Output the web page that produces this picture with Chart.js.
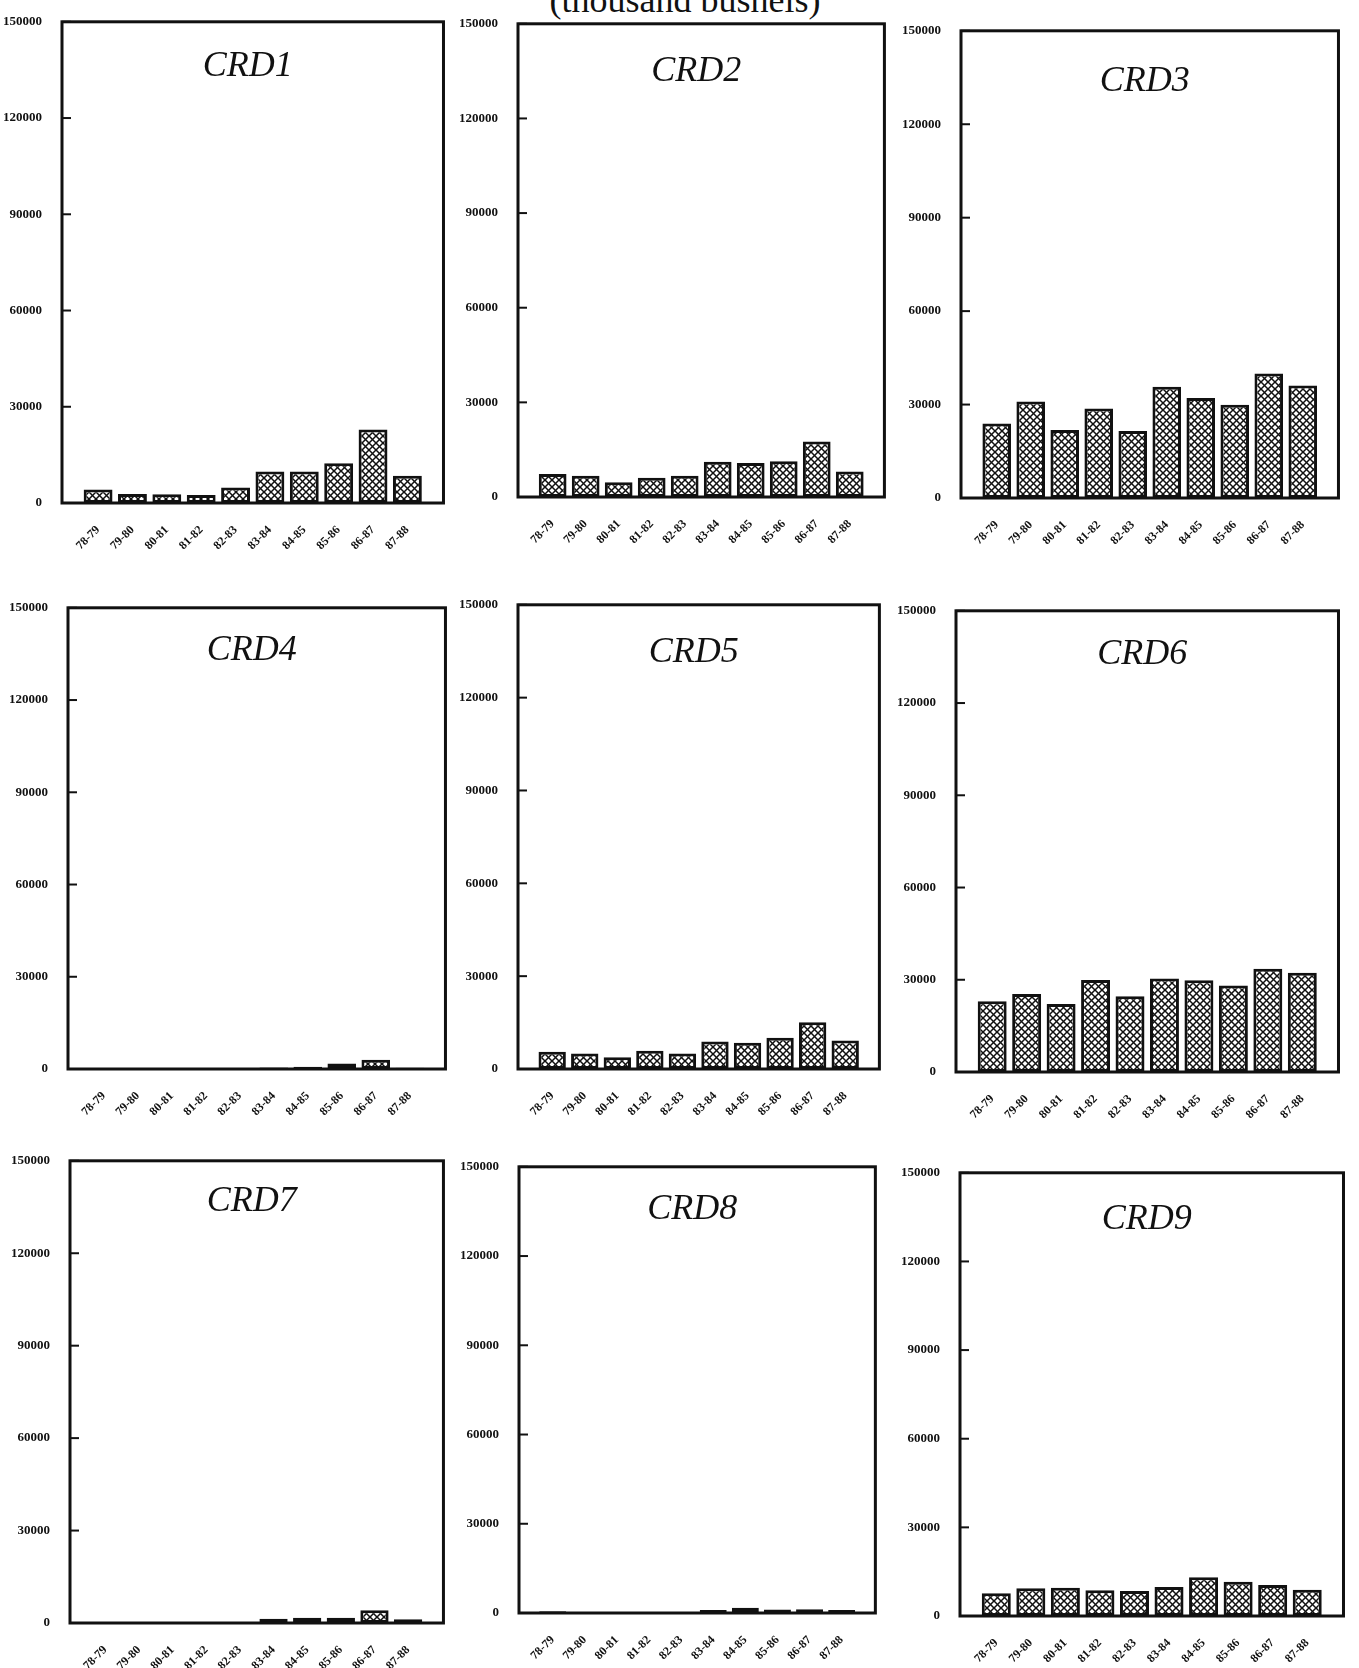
<!DOCTYPE html>
<html>
<head>
<meta charset="utf-8">
<script src="https://cdn.jsdelivr.net/npm/chart.js@4.4.0/dist/chart.umd.min.js"></script>
<style>
  html, body { margin: 0; padding: 0; background: #fff; }
  body { width: 1359px; height: 1668px; position: relative; overflow: hidden; }
  #heading {
    position: absolute; left: 0; width: 1370px; top: -18px;
    text-align: center; font: 36px 'Liberation Serif', serif; line-height: 36px; color: #111;
  }
  .panel { position: absolute; }
</style>
</head>
<body>
<div id="heading">(thousand bushels)</div>
<script>
// crop years on the x axis
var seasons = ['78-79', '79-80', '80-81', '81-82', '82-83', '83-84', '84-85', '85-86', '86-87', '87-88'];

// thousand bushels per crop reporting district
var crd1 = [4200, 2800, 2700, 2500, 4800, 9800, 9800, 12400, 22900, 8500];
var crd2 = [7300, 6700, 4700, 6100, 6700, 11200, 10800, 11300, 17600, 8100];
var crd3 = [23900, 31000, 21800, 28700, 21500, 35700, 32100, 29900, 40000, 36100];
var crd4 = [100, 100, 150, 100, 150, 500, 700, 1800, 3000, 400];
var crd5 = [5600, 5000, 3800, 5900, 5000, 8900, 8500, 10100, 15100, 9200];
var crd6 = [23000, 25400, 22100, 29900, 24600, 30400, 29800, 28100, 33600, 32300];
var crd7 = [300, 200, 300, 200, 300, 1400, 1700, 1700, 4100, 1200];
var crd8 = [600, 300, 300, 200, 300, 1000, 1800, 1200, 1300, 1000];
var crd9 = [7700, 9400, 9600, 8700, 8500, 9800, 13100, 11600, 10500, 8900];

var districts = ['CRD1', 'CRD2', 'CRD3', 'CRD4', 'CRD5', 'CRD6', 'CRD7', 'CRD8', 'CRD9'];
var series = [crd1, crd2, crd3, crd4, crd5, crd6, crd7, crd8, crd9];

// plot boxes on the page: left, top, right, bottom, title offset from top
var boxes = [
  [62, 14, 452, 503, 45], [518, 16, 893, 497, 48], [961, 23, 1347, 498, 51],
  [68, 600, 454, 1069, 43], [518, 597, 888, 1069, 48], [956, 603, 1347, 1072, 44],
  [70, 1153, 452, 1623, 41], [519, 1159, 884, 1613, 43], [960, 1165, 1352, 1616, 47]
];

var AXW = 64, PADT = 12, PADR = 12, AXH = 70;
var yFont = { family: 'Liberation Serif', size: 13, weight: 'bold' };
var xFont = { family: 'Liberation Serif', size: 12, weight: 'bold' };

function hatch(ctx) {
  var c = document.createElement('canvas');
  c.width = 7; c.height = 7;
  var g = c.getContext('2d');
  g.fillStyle = '#fff';
  g.fillRect(0, 0, 7, 7);
  g.strokeStyle = '#111';
  g.lineWidth = 1.5;
  for (var k = -7; k <= 7; k += 7) {
    g.beginPath(); g.moveTo(k, 0); g.lineTo(k + 7, 7); g.stroke();
    g.beginPath(); g.moveTo(k + 7, 0); g.lineTo(k, 7); g.stroke();
  }
  return ctx.createPattern(c, 'repeat');
}

// box round the plot, inward ticks on the left, district name
var frame = {
  id: 'frame',
  afterDraw: function (chart) {
    var a = chart.chartArea, c = chart.ctx, y = chart.scales.y;
    var o = chart.options.plugins.frame;
    c.save();
    c.strokeStyle = '#111';
    c.lineWidth = 3;
    c.strokeRect(a.left, a.top, a.right - a.left, a.bottom - a.top);
    c.lineWidth = 2;
    y.ticks.forEach(function (t) {
      var py = y.getPixelForValue(t.value);
      c.beginPath(); c.moveTo(a.left, py); c.lineTo(a.left + 9, py); c.stroke();
    });
    c.font = 'italic 36px "Liberation Serif"';
    c.fillStyle = '#111';
    c.textAlign = 'center';
    c.textBaseline = 'middle';
    c.fillText(o.title, (a.left + a.right) / 2 - 5, a.top + o.dy);
    c.restore();
  }
};

var genChart = (i) => {
  var b = boxes[i];
  var w = b[2] - b[0] + AXW + PADR;
  var h = b[3] - b[1] + PADT + AXH;
  var div = document.createElement('div');
  div.className = 'panel';
  div.style.left = (b[0] - AXW) + 'px';
  div.style.top = (b[1] - PADT) + 'px';
  var canvas = document.createElement('canvas');
  canvas.width = w; canvas.height = h;
  div.appendChild(canvas);
  document.body.appendChild(div);
  var ctx = canvas.getContext('2d');

  new Chart(ctx, {
    type: 'bar',
    data: {
      datasets: [{
        data: series[i].map((v, k) => ({ x: k, y: v })),
        backgroundColor: hatch(ctx),
        borderColor: '#111',
        borderWidth: 3,
        borderSkipped: false,
        barPercentage: 0.84,
        categoryPercentage: 1
      }]
    },
    options: {
      responsive: false,
      animation: false,
      layout: { padding: { top: PADT, right: PADR, left: 0, bottom: 0 } },
      plugins: {
        legend: { display: false },
        tooltip: { enabled: false },
        frame: { title: districts[i], dy: b[4] }
      },
      scales: {
        x: {
          type: 'linear', min: -1.05, max: 10.05, offset: false,
          grid: { display: false, offset: false }, border: { display: false },
          ticks: {
            stepSize: 1, autoSkip: false, includeBounds: false,
            minRotation: 45, maxRotation: 45, padding: 12,
            color: '#111', font: xFont,
            callback: v => (v >= 0 && v < seasons.length) ? seasons[v] : ''
          },
          afterFit: s => { s.height = AXH; }
        },
        y: {
          min: 0, max: 150000,
          grid: { display: false }, border: { display: false },
          ticks: { stepSize: 30000, padding: 12, color: '#111', font: yFont, callback: v => String(v) },
          afterFit: s => { s.width = AXW; }
        }
      }
    },
    plugins: [frame]
  });
};

for (var i = 0; i < 9; i++) genChart(i);
</script>
</body>
</html>
